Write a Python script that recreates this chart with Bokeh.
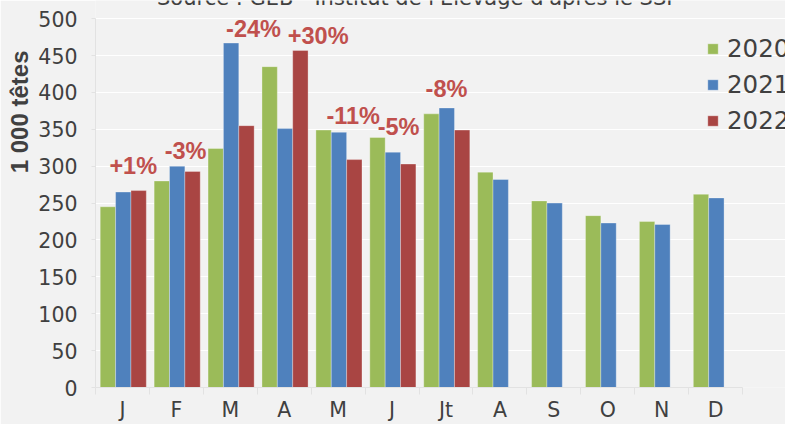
from bokeh.plotting import figure
from bokeh.models import (Range1d, FixedTicker, CustomJSTickFormatter, Legend, LegendItem,
                          Title, ColumnDataSource)
from bokeh.core.properties import value
from bokeh.embed import file_html
from bokeh.resources import INLINE

# ---- data ----
months = ["J", "F", "M", "A", "M", "J", "Jt", "A", "S", "O", "N", "D"]
series_names = ["2020", "2021", "2022"]
v2020 = [245, 280, 324, 435, 349, 339, 371, 292, 253, 233, 225, 262]
v2021 = [265, 300, 467, 351, 346, 319, 379, 282, 250, 223, 221, 257]
v2022 = [267, 293, 355, 457, 309, 303, 349]
pct_labels = ["+1%", "-3%", "-24%", "+30%", "-11%", "-5%", "-8%"]
pct_x = [0.70, 1.67, 2.93, 4.13, 4.78, 5.62, 6.51]
pct_y = [300, 320, 486, 477, 368, 353, 405]
y_ticks = [0, 50, 100, 150, 200, 250, 300, 350, 400, 450, 500]
source_text = "Source : GEB - Institut de l'Elevage d'après le SSP"
y_title = "1 000 têtes"

# ---- style ----
BG = "#F2F2F2"
TXT = "#404040"
AX = "#E2E2E2"
colors = ["#9BBB59", "#4F81BD", "#A94543"]
PCT_COLOR = "#C0504D"
FONT = "DejaVu Sans"
bar_w = 0.285
grp_center = 0.515

p = figure(width=785, height=424, output_backend="svg", toolbar_location=None,
           x_range=Range1d(0, 12.797), y_range=Range1d(0, 524.7),
           min_border_left=95, min_border_right=0, min_border_top=0, min_border_bottom=36)
p.background_fill_color = BG
p.border_fill_color = BG
p.outline_line_color = None

renderers = []
for k, vals in enumerate([v2020, v2021, v2022]):
    xs = [i + grp_center + (k - 1) * bar_w for i in range(len(vals))]
    src = ColumnDataSource(dict(x=xs, top=vals))
    r = p.vbar(x="x", top="top", width=bar_w, bottom=0, source=src,
               fill_color=colors[k], line_color="white", line_alpha=0.3, line_width=1)
    renderers.append(r)

# percent labels
psrc = ColumnDataSource(dict(x=pct_x, y=pct_y, t=pct_labels))
p.text(x="x", y="y", text="t", source=psrc, text_color=PCT_COLOR,
       text_font=value("Liberation Sans"), text_font_style="bold",
       text_font_size="23.5px", text_align="center", text_baseline="middle")

# source line, cut at the top edge as in the original
p.text(x=[5.98], y=[527.5], text=[source_text], text_color=TXT,
       text_font=value(FONT), text_font_size="21px",
       text_align="center", text_baseline="alphabetic")

# grid
p.xgrid.visible = False
p.ygrid.ticker = FixedTicker(ticks=y_ticks)
p.ygrid.grid_line_color = "white"
p.ygrid.grid_line_width = 1
p.ygrid.bounds = (0, 12)

# y axis
ya = p.yaxis[0]
ya.ticker = FixedTicker(ticks=y_ticks)
ya.bounds = (0, 500)
ya.major_label_text_font = FONT
ya.major_label_text_font_size = "20.5px"
ya.major_label_text_color = TXT
ya.axis_line_color = AX
ya.major_tick_line_color = AX
ya.major_tick_out = 4
ya.major_tick_in = 0
ya.minor_tick_line_color = None
ya.major_label_standoff = 14

# x axis
xa = p.xaxis[0]
xa.ticker = FixedTicker(ticks=[i + 0.5 for i in range(12)], minor_ticks=list(range(13)))
xa.bounds = (0, 12)
xa.formatter = CustomJSTickFormatter(args=dict(labels=months),
                                     code="return labels[Math.floor(tick)] || '';")
xa.major_label_text_font = FONT
xa.major_label_text_font_size = "20.5px"
xa.major_label_text_color = TXT
xa.axis_line_color = AX
xa.major_tick_out = 0
xa.major_tick_in = 0
xa.minor_tick_out = 7
xa.minor_tick_in = 0
xa.minor_tick_line_color = AX
xa.major_label_standoff = 3

# legend
legend = Legend(items=[LegendItem(label=series_names[k], renderers=[renderers[k]]) for k in range(3)],
                location=(611, 252), orientation="vertical",
                glyph_width=13, glyph_height=13, label_height=30, spacing=6,
                label_standoff=8, padding=0, margin=0,
                label_text_font=FONT, label_text_font_size="24.5px", label_text_color=TXT,
                background_fill_alpha=0, border_line_alpha=0)
p.add_layout(legend, "center")

# y axis title
p.add_layout(Title(text=y_title, align="right", offset=50, standoff=6,
                   text_font="Liberation Sans", text_font_style="bold",
                   text_font_size="24px", text_color=TXT), "left")

open("out.html", "w").write(file_html(p, INLINE))
